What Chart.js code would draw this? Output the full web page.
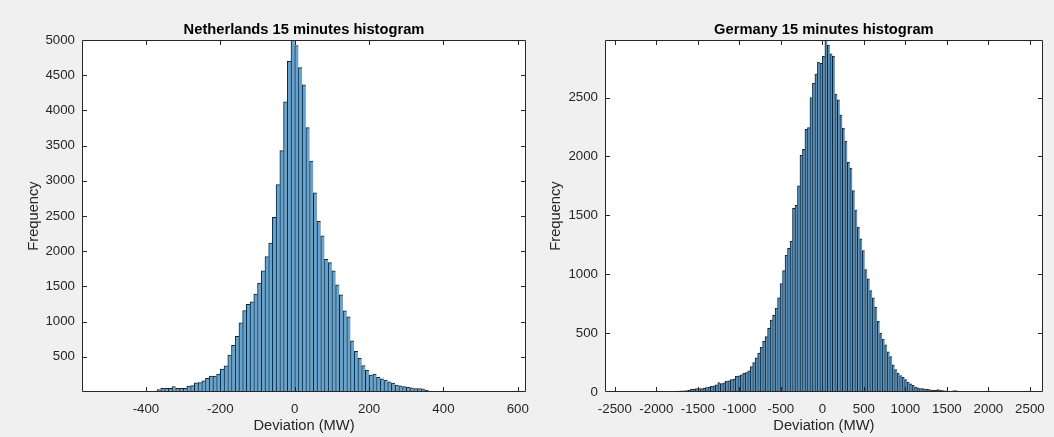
<!DOCTYPE html>
<html><head><meta charset="utf-8">
<script src="https://cdn.jsdelivr.net/npm/chart.js@4.4.1/dist/chart.umd.min.js"></script>
<style>
html,body{margin:0;padding:0;background:#f0f0f0;width:1054px;height:437px;overflow:hidden}
canvas{position:absolute;top:0}
#nl{left:0}
#de{left:530px}
</style></head><body>
<canvas id="nl" width="540" height="437"></canvas>
<canvas id="de" width="524" height="437"></canvas>
<script>
const nlTitle = 'Netherlands 15 minutes histogram';
const deTitle = 'Germany 15 minutes histogram';
const xLabel = 'Deviation (MW)';
const yLabel = 'Frequency';

// Netherlands: bins of 10 MW starting at -480 MW
const nlBinStart = -480;
const nlBinWidth = 10;
const nlCounts = [
  8, 0, 0, 0, 0, 0, 0, 0, 0, 0,
  14, 36, 51, 51, 51, 78, 51, 53, 53, 83,
  90, 129, 134, 160, 193, 226, 226, 253, 324, 370,
  526, 662, 790, 982, 1158, 1245, 1282, 1391, 1547, 1722,
  1925, 2115, 2480, 2947, 3430, 4123, 4698, 5000, 4922, 4608,
  4364, 3755, 3280, 2828, 2423, 2217, 1885, 1837, 1722, 1522,
  1379, 1152, 1067, 726, 578, 478, 375, 312, 242, 253,
  210, 188, 171, 144, 125, 100, 86, 76, 68, 61,
  49, 49, 46, 27
];

// Germany: bins of 30 MW starting at -1800 MW
const deBinStart = -1800;
const deBinWidth = 30;
const deCounts = [
  5, 8, 8, 10, 10, 12, 15, 22, 25, 28,
  28, 30, 34, 37, 40, 48, 52, 60, 80, 72,
  78, 90, 95, 105, 110, 133, 138, 145, 160, 165,
  180, 215, 250, 290, 330, 380, 430, 470, 540, 610,
  650, 710, 800, 920, 1030, 1160, 1220, 1280, 1560, 1585,
  1750, 2010, 2060, 2230, 2245, 2500, 2620, 2700, 2800, 2790,
  2850, 2985, 2945, 2870, 2850, 2530, 2480, 2350, 2240, 2130,
  1950, 1900, 1710, 1545, 1400, 1300, 1200, 1040, 960, 860,
  800, 720, 600, 500, 450, 400, 340, 300, 230, 190,
  160, 140, 125, 105, 85, 70, 56, 42, 35, 30,
  28, 25, 23, 18, 14, 16, 20, 14, 11, 9,
  8, 6, 10, 11, 8
];

const nlXTicks = [-400, -200, 0, 200, 400, 600];
const nlYTicks = [500, 1000, 1500, 2000, 2500, 3000, 3500, 4000, 4500, 5000];
const deXTicks = [-2500, -2000, -1500, -1000, -500, 0, 500, 1000, 1500, 2000, 2500];
const deYTicks = [0, 500, 1000, 1500, 2000, 2500];
const nlXRange = [-572, 622];
const nlYRange = [0, 5000];
const deXRange = [-2619, 2655];
const deYRange = [0, 2988];

const FONT = '"Liberation Sans", Arial, Helvetica, sans-serif';
const AXIS_COLOR = '#262626';

const matlabAxes = {
  id: 'matlabAxes',
  beforeDraw(chart) {
    const {ctx, chartArea: a} = chart;
    ctx.save();
    ctx.fillStyle = '#ffffff';
    ctx.fillRect(a.left, a.top, a.right - a.left, a.bottom - a.top);
    ctx.restore();
  },
  afterDraw(chart) {
    const {ctx, chartArea: a, scales} = chart;
    const L = Math.round(a.left) + 0.5, R = Math.round(a.right) - 0.5;
    const T = Math.round(a.top) + 0.5, B = Math.round(a.bottom) - 0.5;
    const tl = 4.5;
    ctx.save();
    ctx.strokeStyle = AXIS_COLOR;
    ctx.lineWidth = 1;
    ctx.beginPath();
    ctx.rect(L, T, R - L, B - T);
    scales.x.ticks.forEach(t => {
      const px = Math.round(scales.x.getPixelForValue(t.value)) + 0.5;
      if (px < L + 1 || px > R - 1) return;
      ctx.moveTo(px, B); ctx.lineTo(px, B - tl);
      ctx.moveTo(px, T); ctx.lineTo(px, T + tl);
    });
    scales.y.ticks.forEach(t => {
      const py = Math.round(scales.y.getPixelForValue(t.value)) + 0.5;
      if (py < T + 1 || py > B - 1) return;
      ctx.moveTo(L, py); ctx.lineTo(L + tl, py);
      ctx.moveTo(R, py); ctx.lineTo(R - tl, py);
    });
    ctx.stroke();
    ctx.restore();
  }
};

function histChart(id, o) {
  const data = o.counts.map((c, i) => ({x: o.binStart + o.binWidth * (i + 0.5), y: c}));
  return new Chart(document.getElementById(id), {
    type: 'bar',
    data: {datasets: [{
      data,
      backgroundColor: o.fill,
      borderColor: 'rgba(20,20,20,0.95)',
      borderWidth: {top: 1, left: 1, right: 0, bottom: 0},
      borderSkipped: 'start',
      barPercentage: 1,
      categoryPercentage: 1
    }]},
    plugins: [matlabAxes],
    options: {
      responsive: false,
      animation: false,
      devicePixelRatio: 1,
      layout: {padding: {left: 0, right: o.padRight, top: 0, bottom: 0}},
      plugins: {
        legend: {display: false},
        tooltip: {enabled: false},
        title: {
          display: true, text: o.title, color: '#000000', fullSize: false,
          font: {family: FONT, size: 14.7, weight: 'bold'},
          padding: {top: 21, bottom: 1.4}
        }
      },
      scales: {
        x: {
          type: 'linear', min: o.xRange[0], max: o.xRange[1], offset: false,
          grid: {display: false, drawTicks: false},
          border: {display: false},
          afterBuildTicks: s => { s.ticks = o.xTicks.map(v => ({value: v})); },
          afterFit: s => { s.height = 45; },
          ticks: {autoSkip: false, maxRotation: 0, padding: 9, color: AXIS_COLOR,
                  font: {family: FONT, size: 13.3}, callback: v => String(v)},
          title: {display: true, text: xLabel, color: AXIS_COLOR,
                  font: {family: FONT, size: 14.7}, padding: {top: 0, bottom: 2}}
        },
        y: {
          type: 'linear', min: o.yRange[0], max: o.yRange[1],
          grid: {display: false, drawTicks: false},
          border: {display: false},
          afterBuildTicks: s => { s.ticks = o.yTicks.map(v => ({value: v})); },
          afterFit: s => { s.width = o.yWidth; },
          ticks: {autoSkip: false, padding: 7, color: AXIS_COLOR,
                  font: {family: FONT, size: 13.3}, callback: v => String(v)},
          title: {display: true, text: yLabel, color: AXIS_COLOR,
                  font: {family: FONT, size: 14.7}, padding: {top: o.yTitlePad, bottom: 0}}
        }
      }
    }
  });
}

histChart('nl', {
  title: nlTitle, counts: nlCounts, binStart: nlBinStart, binWidth: nlBinWidth,
  xTicks: nlXTicks, yTicks: nlYTicks, xRange: nlXRange, yRange: nlYRange,
  yWidth: 82, padRight: 14, yTitlePad: 25, fill: '#5fa5d6'
});
histChart('de', {
  title: deTitle, counts: deCounts, binStart: deBinStart, binWidth: deBinWidth,
  xTicks: deXTicks, yTicks: deYTicks, xRange: deXRange, yRange: deYRange,
  yWidth: 75, padRight: 6, yTitlePad: 17, fill: '#4f93c6'
});
</script>
</body></html>
